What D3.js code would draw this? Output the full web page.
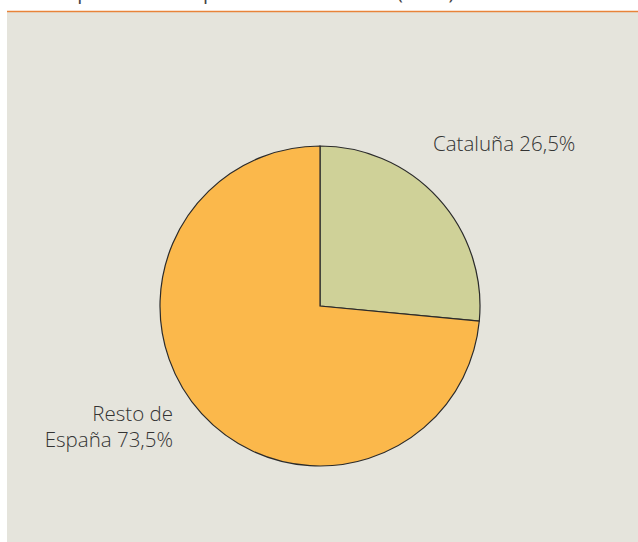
<!DOCTYPE html>
<html>
<head>
<meta charset="utf-8">
<script src="https://cdn.jsdelivr.net/npm/d3@7"></script>
<style>
  body { margin: 0; background: #fff; }
  text { font-family: "Open Sans", "Noto Sans", sans-serif; }
</style>
</head>
<body>
<div id="chart"></div>
<script>
// slice data
var categories = ["Cataluña", "Resto de España"];
var values = [26.5, 73.5];
var labels = [["Cataluña 26,5%"], ["Resto de", "España 73,5%"]];
var colors = ["#cfd198", "#fbb84b"];

var width = 638, height = 542;

var svg = d3.select("#chart")
  .append("svg")
  .attr("width", width)
  .attr("height", height);

// title, mostly cropped off the top
svg.append("text")
  .attr("x", 12)
  .attr("y", -1)
  .attr("font-size", 20)
  .attr("fill", "#444")
  .text("2.1. La población respecto al total estatal (2009)");

// panel background
svg.append("rect")
  .attr("x", 7).attr("y", 12)
  .attr("width", width - 7).attr("height", height - 12)
  .attr("fill", "#e5e4dc");
svg.append("line")
  .attr("x1", 7).attr("x2", width)
  .attr("y1", 11.5).attr("y2", 11.5)
  .attr("stroke", "#e8833a")
  .attr("stroke-width", 1.5);

var cx = 320, cy = 306, r = 160;

var pie = d3.pie().sort(null).value(function(d){ return d; });
var arc = d3.arc().innerRadius(0).outerRadius(r);

var group = svg.append("g")
  .attr("transform", "translate(" + cx + "," + cy + ")");

group.selectAll(".slice")
  .data(pie(values))
  .enter()
  .append("path")
  .attr("class", "slice")
  .attr("d", arc)
  .attr("fill", function(d, i){ return colors[i]; })
  .attr("stroke", "#2b2b2b")
  .attr("stroke-width", 1.2);

// labels outside the pie
var labelPos = [
  { x: 433, y: 151, anchor: "start" },
  { x: 173, y: 421, anchor: "end" }
];

labels.forEach(function(lines, i){
  var t = svg.append("text")
    .attr("x", labelPos[i].x)
    .attr("y", labelPos[i].y)
    .attr("text-anchor", labelPos[i].anchor)
    .attr("font-size", 20.5)
    .attr("font-weight", 300)
    .attr("fill", "#333");
  lines.forEach(function(s, j){
    t.append("tspan")
      .attr("x", labelPos[i].x)
      .attr("dy", j === 0 ? 0 : 26)
      .text(s);
  });
});
</script>
</body>
</html>
